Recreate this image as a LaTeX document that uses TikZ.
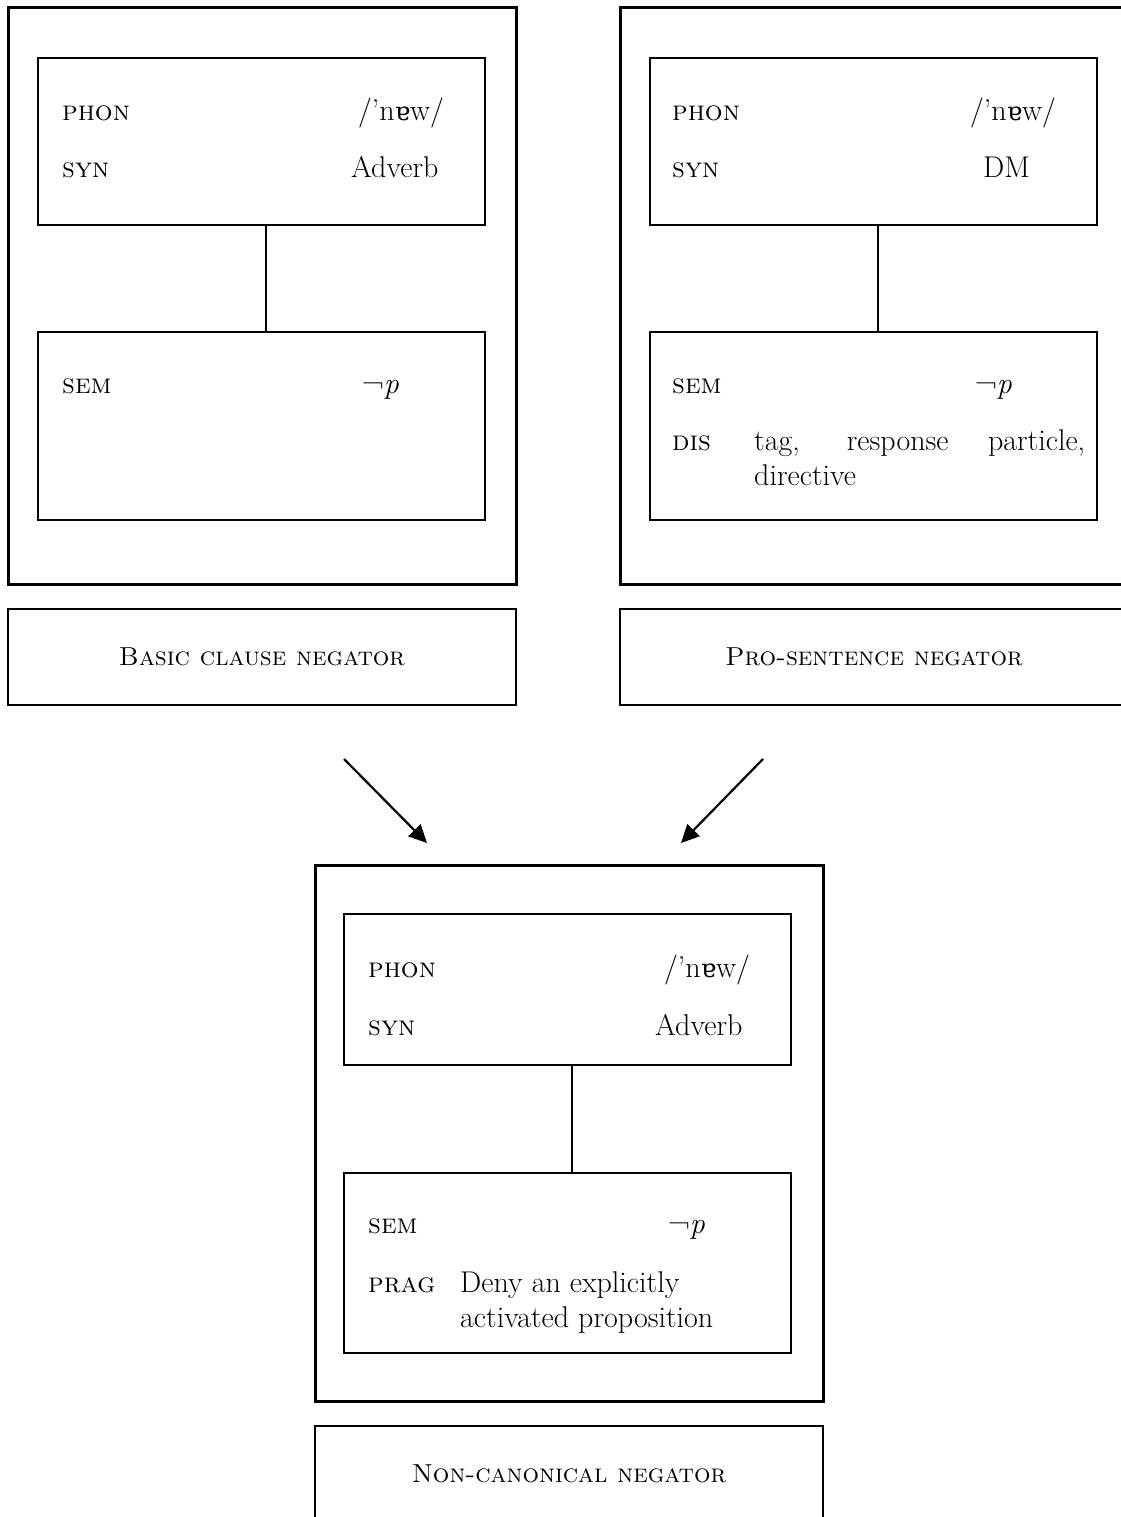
\documentclass[tikz,border=0pt]{standalone}
\usepackage{fontspec}
\newfontfamily\ipafont{DejaVu Serif}[Scale=0.85]
\usetikzlibrary{arrows.meta}

\begin{document}
\begin{tikzpicture}[
    x=1pt, y=-1pt,
    font=\fontsize{30}{35}\selectfont,
    outerbox/.style={rectangle,draw,line width=3pt,anchor=north west,minimum width=508pt,inner sep=0pt,outer sep=0pt},
    innerbox/.style={rectangle,draw,line width=2pt,anchor=north west,minimum width=447pt,inner sep=0pt,outer sep=0pt},
    labelbox/.style={rectangle,draw,line width=2pt,anchor=north west,minimum width=508pt,minimum height=96pt,inner sep=0pt,outer sep=0pt,font=\fontsize{26}{32}\selectfont},
    feat/.style={anchor=base west,inner sep=0pt,font=\fontsize{28}{35}\selectfont},
    val/.style={anchor=base west,inner sep=0pt},
    link/.style={line width=1.2pt},
    arrow/.style={-{Triangle[length=18pt,width=17pt]},line width=2.2pt}
]
\useasboundingbox (0,0) rectangle (1120,1517);

\node[outerbox,minimum height=576pt] (basicout) at (8,8) {};
\node[innerbox,minimum height=167pt] (basicform) at (38,58) {};
\node[innerbox,minimum height=188pt] (basicmeaning) at (38,332) {};
\draw[link] ([xshift=4.5pt]basicform.south) -- ([xshift=4.5pt]basicmeaning.north);
\node[feat] (basicphon) at (62,121) {\textsc{phon}};
\node[val] (basicphonval) at (358,121) {/’n{\ipafont ɐ}w/};
\node[feat] (basicsyn) at (62,178) {\textsc{syn}};
\node[val] (basicsynval) at (351,178) {Adverb};
\node[feat] (basicsem) at (62,393) {\textsc{sem}};
\node[val] (basicsemval) at (362,393) {¬\textit{p}};
\node[labelbox] (basiclabel) at (8,609) {\textsc{Basic clause negator}};

\node[outerbox,minimum height=576pt] (proout) at (620,8) {};
\node[innerbox,minimum height=167pt] (proform) at (650,58) {};
\node[innerbox,minimum height=188pt] (promeaning) at (650,332) {};
\draw[link] ([xshift=4.5pt]proform.south) -- ([xshift=4.5pt]promeaning.north);
\node[feat] (prophon) at (672,121) {\textsc{phon}};
\node[val] (prophonval) at (970,121) {/’n{\ipafont ɐ}w/};
\node[feat] (prosyn) at (672,178) {\textsc{syn}};
\node[val] (prosynval) at (983,178) {DM};
\node[feat] (prosem) at (672,393) {\textsc{sem}};
\node[val] (prosemval) at (975,393) {¬\textit{p}};
\node[feat] (prodis) at (672,450) {\textsc{dis}};
\node[val] (prodisval) at (754,450) {\makebox[331pt][s]{tag, response particle,}};
\node[val] (prodisval2) at (754,485) {directive};
\node[labelbox] (prolabel) at (620,609) {\textsc{Pro-sentence negator}};

\coordinate (basicfrom) at (344,759);
\coordinate (basicto) at (427,843);
\coordinate (profrom) at (763,759);
\coordinate (proto) at (681,843);
\draw[arrow] (basicfrom) -- (basicto);
\draw[arrow] (profrom) -- (proto);

\node[outerbox,minimum height=536pt] (nonout) at (315,865) {};
\node[innerbox,minimum height=151pt] (nonform) at (344,914) {};
\node[innerbox,minimum height=180pt] (nonmeaning) at (344,1173) {};
\draw[link] ([xshift=4.5pt]nonform.south) -- ([xshift=4.5pt]nonmeaning.north);
\node[feat] (nonphon) at (368,977) {\textsc{phon}};
\node[val] (nonphonval) at (664,977) {/’n{\ipafont ɐ}w/};
\node[feat] (nonsyn) at (368,1035) {\textsc{syn}};
\node[val] (nonsynval) at (655,1035) {Adverb};
\node[feat] (nonsem) at (368,1233) {\textsc{sem}};
\node[val] (nonsemval) at (668,1233) {¬\textit{p}};
\node[feat] (nonprag) at (368,1292) {\textsc{prag}};
\node[val] (nonpragval) at (460,1292) {Deny an explicitly};
\node[val] (nonpragval2) at (460,1327) {activated proposition};
\node[labelbox] (nonlabel) at (315,1426) {\textsc{Non-canonical negator}};
\end{tikzpicture}
\end{document}
